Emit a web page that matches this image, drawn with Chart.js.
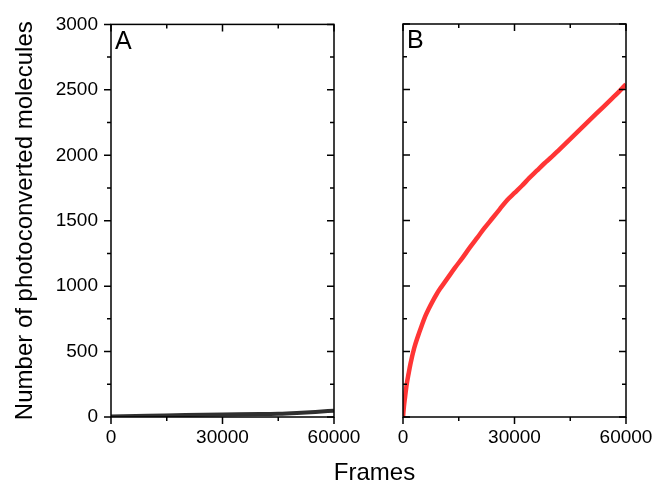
<!DOCTYPE html>
<html>
<head>
<meta charset="utf-8">
<script src="https://cdn.jsdelivr.net/npm/chart.js@4"></script>
<style>
  html, body { margin: 0; padding: 0; background: #fff; overflow: hidden; }
  #wrap { position: relative; width: 655px; height: 487px; overflow: hidden; }
  canvas { position: absolute; left: 0; top: 0; }
</style>
</head>
<body>
<div id="wrap">
  <canvas id="cA" width="655" height="487"></canvas>
  <canvas id="cB" width="720" height="487"></canvas>
</div>
<script>
// ---- data ----
const framesA = [0, 10000, 20000, 30000, 40000, 45000, 50000, 55000, 60000];
const countsA = [4, 9, 15, 19, 22, 25, 31, 39, 48];

const framesB = [0, 250, 500, 1000, 1500, 2000, 3000, 4000, 5000, 6000, 7000, 8000, 9000, 10000, 11000,
  12000, 14000, 16000, 18000, 20000, 22000, 24000, 26000, 28000, 30000, 32000, 34000, 36000,
  38000, 40000, 42000, 44000, 46000, 48000, 50000, 52000, 54000, 56000, 58000, 60000];
const countsB = [0, 80, 140, 250, 330, 405, 525, 615, 695, 770, 830, 885, 935, 980, 1020,
  1060, 1140, 1215, 1295, 1370, 1445, 1515, 1585, 1655, 1710, 1765, 1825, 1880,
  1935, 1985, 2040, 2095, 2150, 2205, 2260, 2315, 2370, 2425, 2480, 2540];

const yTicks = [0, 500, 1000, 1500, 2000, 2500, 3000];
const yMinor = [250, 750, 1250, 1750, 2250, 2750];
const xTicks = [0, 30000, 60000];
const xMinor = [15000, 45000];
const panelLabels = ['A', 'B'];
const yTitle = 'Number of photoconverted molecules';
const xTitle = 'Frames';

const FONT = "'Liberation Sans', Arial, sans-serif";

function toPts(xs, ys) { return xs.map((x, i) => ({x: x, y: ys[i]})); }

function framePlugin(label, leftOutward, drawXTitle) {
  return {
    id: 'frame' + label,
    afterDraw(chart) {
      const ctx = chart.ctx;
      const a = chart.chartArea;
      const xs = chart.scales.x, ys = chart.scales.y;
      ctx.save();
      ctx.strokeStyle = '#000';
      ctx.lineWidth = 1.5;
      ctx.strokeRect(a.left, a.top, a.right - a.left, a.bottom - a.top);
      ctx.beginPath();
      const MAJ = 7, MIN = 4;
      yTicks.forEach(v => {
        const p = ys.getPixelForValue(v);
        if (leftOutward) { ctx.moveTo(a.left - MAJ, p); ctx.lineTo(a.left, p); }
        else { ctx.moveTo(a.left, p); ctx.lineTo(a.left + MAJ, p); }
        ctx.moveTo(a.right - MAJ, p); ctx.lineTo(a.right, p);
      });
      yMinor.forEach(v => {
        const p = ys.getPixelForValue(v);
        if (leftOutward) { ctx.moveTo(a.left - MIN, p); ctx.lineTo(a.left, p); }
        else { ctx.moveTo(a.left, p); ctx.lineTo(a.left + MIN, p); }
        ctx.moveTo(a.right - MIN, p); ctx.lineTo(a.right, p);
      });
      xTicks.forEach(v => {
        const p = xs.getPixelForValue(v);
        ctx.moveTo(p, a.bottom); ctx.lineTo(p, a.bottom + MAJ);
        ctx.moveTo(p, a.top); ctx.lineTo(p, a.top + MAJ);
      });
      xMinor.forEach(v => {
        const p = xs.getPixelForValue(v);
        ctx.moveTo(p, a.bottom); ctx.lineTo(p, a.bottom + MIN);
        ctx.moveTo(p, a.top); ctx.lineTo(p, a.top + MIN);
      });
      ctx.stroke();
      ctx.fillStyle = '#000';
      ctx.font = '25px ' + FONT;
      ctx.textAlign = 'left';
      ctx.textBaseline = 'top';
      ctx.fillText(label, a.left + 4, a.top + 5);
      if (drawXTitle) {
        ctx.font = '24px ' + FONT;
        ctx.textAlign = 'center';
        ctx.textBaseline = 'middle';
        ctx.fillText(xTitle, 374.5, 473);
      }
      ctx.restore();
    }
  };
}

function makeChart(id, xsData, ysData, color, width, opts) {
  return new Chart(document.getElementById(id), {
    type: 'line',
    data: {
      datasets: [{
        data: toPts(xsData, ysData),
        borderColor: color,
        borderWidth: width,
        pointRadius: 0,
        fill: false,
        cubicInterpolationMode: 'monotone'
      }]
    },
    options: {
      responsive: false,
      animation: false,
      events: [],
      layout: { padding: opts.padding },
      plugins: { legend: { display: false }, tooltip: { enabled: false } },
      scales: {
        x: {
          type: 'linear', min: 0, max: 60000,
          afterBuildTicks: s => { s.ticks = xTicks.map(v => ({value: v})); },
          afterFit: s => { s.height = 70; },
          grid: { display: false, drawTicks: false },
          border: { display: false },
          ticks: { padding: 9, color: '#000', font: { family: FONT, size: 19 }, maxRotation: 0,
                   callback: v => String(v) }
        },
        y: {
          type: 'linear', min: 0, max: 3000,
          display: opts.showY,
          afterBuildTicks: s => { s.ticks = yTicks.map(v => ({value: v})); },
          afterFit: s => { s.width = opts.showY ? 111 : 0; },
          grid: { display: false, drawTicks: false },
          border: { display: false },
          title: { display: opts.showY, text: yTitle, color: '#000',
                   font: { family: FONT, size: 24, lineHeight: 1 }, padding: { top: 13, bottom: 0 } },
          ticks: { padding: 13, color: '#000', font: { family: FONT, size: 19 },
                   callback: v => String(v) }
        }
      }
    },
    plugins: [opts.plugin]
  });
}

makeChart('cA', framesA, countsA, '#303030', 4, {
  padding: { left: 0, right: 321, top: 24, bottom: 0 },
  showY: true,
  plugin: framePlugin(panelLabels[0], true, true)
});
makeChart('cB', framesB, countsB, '#ff3535', 4.5, {
  padding: { left: 403, right: 94, top: 24, bottom: 0 },
  showY: false,
  plugin: framePlugin(panelLabels[1], false, false)
});
</script>
</body>
</html>
